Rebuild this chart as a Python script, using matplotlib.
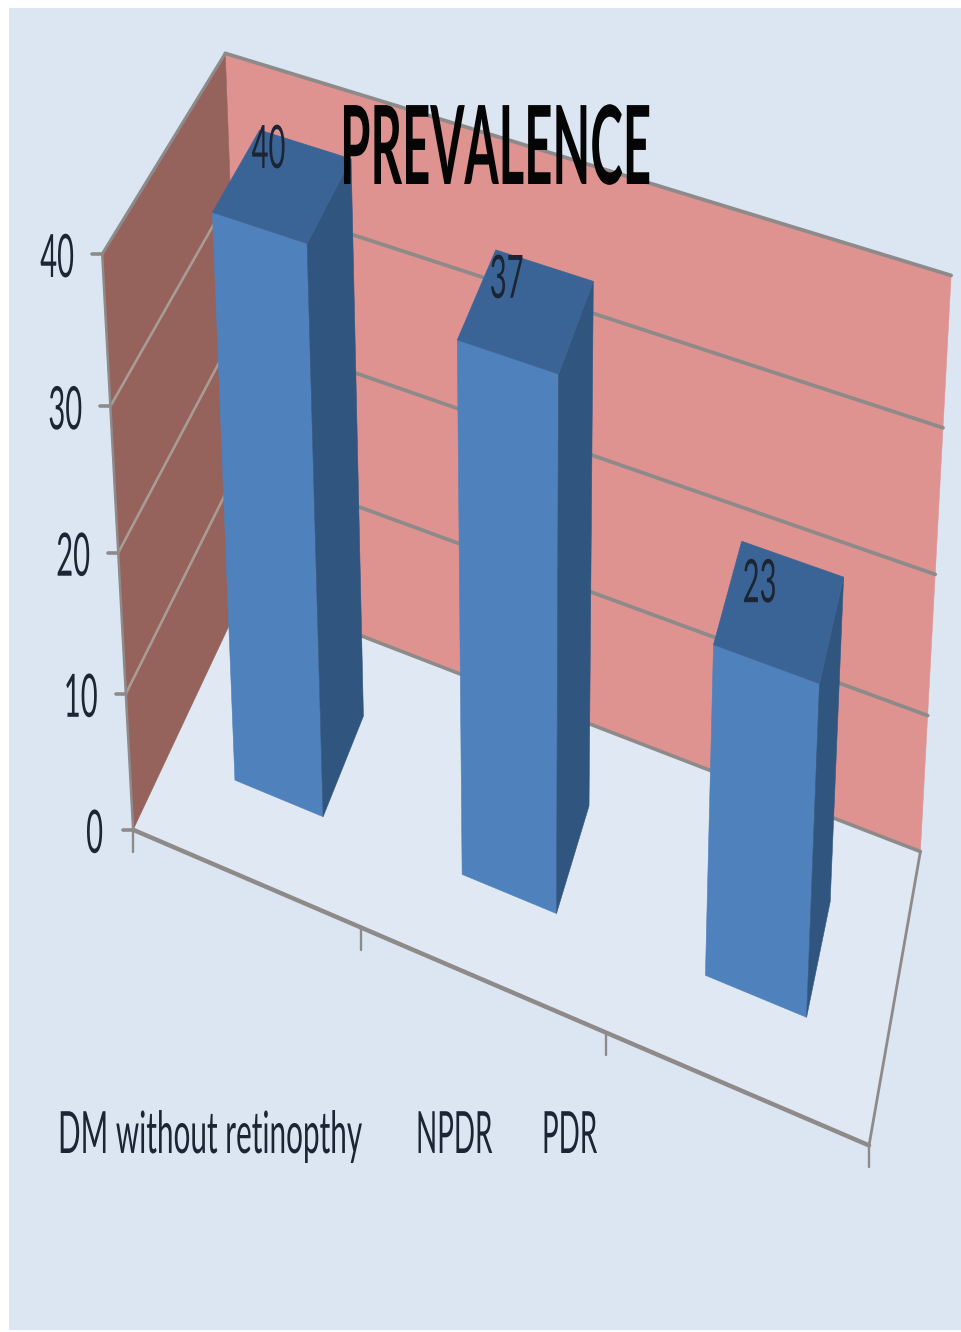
import numpy as np
import matplotlib
matplotlib.use('Agg')
import matplotlib.pyplot as plt
import matplotlib.patheffects as pe
from matplotlib.patches import Rectangle
from matplotlib.transforms import Affine2D

categories = ['DM without retinopthy', 'NPDR', 'PDR']
values = [40, 37, 23]
value_ticks = [0, 10, 20, 30, 40]
chart_title = 'PREVALENCE'

ymax = 40.0
bar_half = 0.066
depth_front = 0.302
depth_back = 0.705

# label placement, pixels from the rear left corner of each column top
value_label_shift = [(-8, 38), (-6, 48), (1, 61)]
category_x = [58, 416, 542]
category_size = [21.4, 20, 20]

PAGE = '#DCE6F2'
FLOOR = '#E0E8F3'
BACK_WALL = '#DF9391'
SIDE_WALL = '#95625C'
BAR_FRONT = '#4F81BD'
BAR_SIDE = '#30567F'
BAR_TOP = '#3B6496'
GRID = '#8E8A8A'
INK = '#1B2533'

# calibration of the 3d box: (along categories, depth, height) -> pixel
box_world = [(0, 0, 0), (1/3, 0, 0), (2/3, 0, 0), (1, 0, 0), (1, 1, 0), (0, 1, 0),
             (0, 0, .25), (0, 0, .5), (0, 0, .75), (0, 0, 1),
             (0, 1, 1), (1, 1, 1), (1, 1, .25), (1, 1, .5), (1, 1, .75)]
box_pixel = [(135, 828), (362, 930), (606, 1040), (868, 1140), (920, 850), (245, 590),
             (124, 692), (118, 552), (110, 405), (103, 255),
             (225, 55), (950, 272), (928, 717), (935, 575), (945, 430)]


def fit_camera(world, pixel):
    rows = []
    for (X, Y, Z), (x, y) in zip(world, pixel):
        rows.append([X, Y, Z, 1, 0, 0, 0, 0, -x*X, -x*Y, -x*Z, -x])
        rows.append([0, 0, 0, 0, X, Y, Z, 1, -y*X, -y*Y, -y*Z, -y])
    _, _, vt = np.linalg.svd(np.array(rows, dtype=float))
    return vt[-1].reshape(3, 4)


camera = fit_camera(box_world, box_pixel)


def project(u, v, value):
    p = camera @ np.array([u, v, value/ymax, 1.0])
    return p[0]/p[2], p[1]/p[2]


class Stretch(pe.AbstractPathEffect):
    # tall, condensed lettering, scaled about the text origin
    def __init__(self, sy):
        super().__init__()
        self.sy = sy

    def draw_path(self, renderer, gc, tpath, affine, rgbFace=None):
        renderer.draw_path(gc, tpath, Affine2D().scale(1, self.sy) + affine, rgbFace)


def label(ax, x, y, s, size, sy, weight='normal', color=INK):
    ax.text(x, y, s, fontsize=size, fontweight=weight, color=color, family='Lato',
            ha='left', va='baseline', path_effects=[Stretch(sy)], zorder=10)


def face(ax, corners, color, z=3):
    ax.fill(*zip(*corners), facecolor=color, edgecolor=color, linewidth=0.4, zorder=z)


def line(ax, a, b, color=GRID, lw=2.0, z=2):
    ax.plot(*zip(a, b), color=color, lw=lw, solid_capstyle='round', zorder=z)


fig = plt.figure(figsize=(9.62, 13.32), dpi=100, facecolor='white')
ax = fig.add_axes([0, 0, 1, 1])
ax.set_xlim(0, 962)
ax.set_ylim(1332, 0)
ax.axis('off')

ax.add_patch(Rectangle((9, 8), 953, 1322, facecolor=PAGE, edgecolor='none', zorder=0))

# walls and floor
face(ax, [project(0, 0, 0), project(1, 0, 0), project(1, 1, 0), project(0, 1, 0)], FLOOR, 1)
face(ax, [project(0, 1, 0), project(1, 1, 0), project(1, 1, ymax), project(0, 1, ymax)], BACK_WALL, 1)
face(ax, [project(0, 0, 0), project(0, 1, 0), project(0, 1, ymax), project(0, 0, ymax)], SIDE_WALL, 1)

# gridlines around the two walls, axis ticks and tick labels
for t in value_ticks:
    if t > 0:
        line(ax, project(0, 1, t), project(1, 1, t), lw=2.7)
        if t < ymax:
            line(ax, project(0, 0, t), project(0, 1, t), color='#A89C94', lw=1.9)
    x, y = project(0, 0, t)
    line(ax, (x - 10, y), (x, y), lw=2.6)
    label(ax, x - 62 if t > 0 else x - 47, y + 23, str(t), 21, 2.05)
line(ax, project(0, 0, ymax), project(0, 1, ymax), lw=2.2)
line(ax, project(0, 0, 0), project(0, 0, ymax), lw=1.8)
line(ax, project(0, 1, 0), project(1, 1, 0), lw=2.6)
line(ax, project(0, 0, 0), project(1, 0, 0), lw=3.2)
line(ax, project(1, 0, 0), project(1, 1, 0), lw=2.0)
for i in range(len(categories) + 1):
    x, y = project(i/len(categories), 0, 0)
    line(ax, (x, y), (x, y + 22), lw=1.7)

# columns
for i, val in enumerate(values):
    mid = (i + 0.5)/len(categories)
    u0, u1 = mid - bar_half, mid + bar_half
    v0, v1 = depth_front, depth_back
    face(ax, [project(u0, v0, 0), project(u1, v0, 0), project(u1, v0, val), project(u0, v0, val)], BAR_FRONT, 4)
    face(ax, [project(u1, v0, 0), project(u1, v1, 0), project(u1, v1, val), project(u1, v0, val)], BAR_SIDE, 4)
    face(ax, [project(u0, v0, val), project(u1, v0, val), project(u1, v1, val), project(u0, v1, val)], BAR_TOP, 4)
    x, y = project(u0, v1, val)
    dx, dy = value_label_shift[i]
    label(ax, x + dx, y + dy, str(val), 21, 2.05)

for name, x, size in zip(categories, category_x, category_size):
    label(ax, x, 1153, name, size, 2.0 * 21 / size)

label(ax, 340, 184, chart_title, 35.4, 2.22, weight='bold', color='#050505')

fig.savefig('out.png', dpi=100, facecolor='white')
